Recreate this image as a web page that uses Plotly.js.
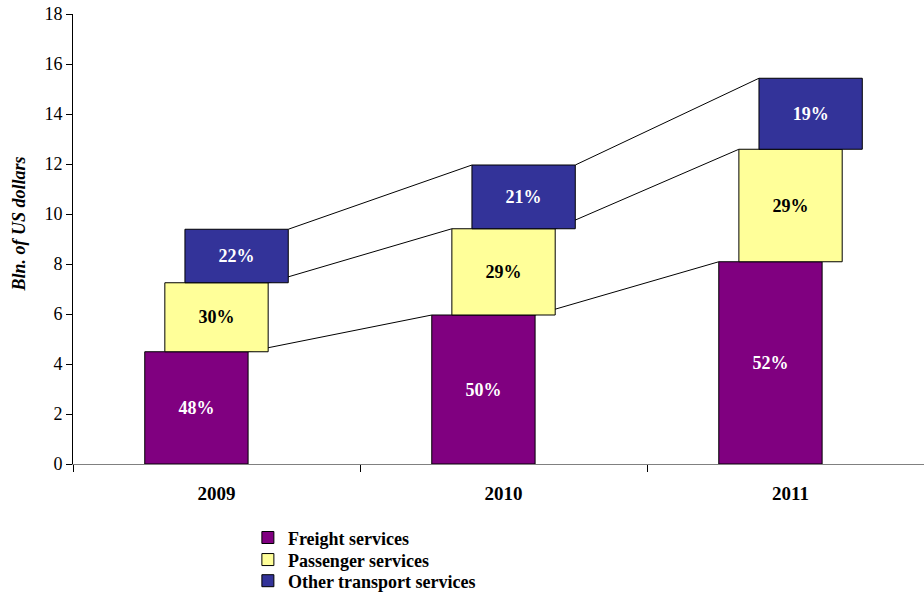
<!DOCTYPE html>
<html>
<head>
<meta charset="utf-8">
<script src="https://cdn.plot.ly/plotly-3.0.1.min.js"></script>
<style>html,body{margin:0;padding:0;background:#fff;}#chart{width:924px;height:593px;}</style>
</head>
<body>
<div id="chart"></div>
<script>
// ---- data ----
var years = ['2009', '2010', '2011'];
var seriesNames = ['Freight services', 'Passenger services', 'Other transport services'];
var freight = [4.49, 5.96, 8.09];
var passenger = [2.76, 3.45, 4.50];
var other = [2.14, 2.55, 2.84];
var freightPct = ['48%', '50%', '52%'];
var passengerPct = ['30%', '29%', '29%'];
var otherPct = ['22%', '21%', '19%'];

// ---- styling ----
var FONT = "'Liberation Serif', 'DejaVu Serif', serif";
var colors = ['#800080', '#FFFF99', '#333399'];
var textColors = ['#FFFFFF', '#000000', '#FFFFFF'];
var barWidth = 0.36;
var shifts = [-0.07, 0, 0.07];
var legendIds = ['legend', 'legend2', 'legend3'];
var legendY = [-0.164, -0.213, -0.260];

var xs = years.map(function (_, i) { return i; });
var series = [freight, passenger, other];
var pcts = [freightPct, passengerPct, otherPct];

// cumulative bases
var bases = [];
var running = years.map(function () { return 0; });
series.forEach(function (s) {
  bases.push(running.slice());
  running = running.map(function (v, j) { return v + s[j]; });
});

var traces = [];

// series connector lines (base subplot, behind bars)
series.forEach(function (s, i) {
  var off = shifts[i] - barWidth / 2;
  var lx = [], ly = [];
  for (var j = 0; j < years.length - 1; j++) {
    lx.push(xs[j] + off + barWidth, xs[j + 1] + off, null);
    ly.push(bases[i][j] + s[j], bases[i][j + 1] + s[j + 1], null);
  }
  traces.push({
    type: 'scatter', mode: 'lines', x: lx, y: ly,
    xaxis: 'x', yaxis: 'y',
    line: {color: '#000000', width: 1},
    showlegend: false, hoverinfo: 'skip'
  });
});

// bars (overlay subplot on top)
series.forEach(function (s, i) {
  traces.push({
    type: 'bar',
    name: '<b>' + seriesNames[i] + '</b>',
    legend: legendIds[i],
    x: xs, y: s, base: bases[i],
    xaxis: 'x2', yaxis: 'y2',
    width: barWidth,
    offset: shifts[i] - barWidth / 2,
    marker: {color: colors[i], line: {color: '#000000', width: 1}},
    text: pcts[i].map(function (p) { return '<b>' + p + '</b>'; }),
    textposition: 'inside',
    insidetextanchor: 'middle',
    textangle: 0,
    constraintext: 'none',
    textfont: {family: FONT, size: 18, color: textColors[i]},
    hoverinfo: 'skip'
  });
});

function legendCfg(y) {
  return {
    x: 0.2055, y: y, xanchor: 'left', yanchor: 'middle',
    orientation: 'v',
    font: {family: FONT, size: 18, color: '#000000'},
    bgcolor: 'rgba(0,0,0,0)', borderwidth: 0
  };
}

var xRange = [-0.5, 2.465];
var layout = {
  width: 924, height: 593,
  margin: {l: 73, r: 0, t: 14, b: 129, autoexpand: false},
  paper_bgcolor: '#FFFFFF', plot_bgcolor: '#FFFFFF',
  font: {family: FONT, size: 17, color: '#000000'},
  barmode: 'overlay',
  showlegend: true,
  legend: legendCfg(legendY[0]),
  legend2: legendCfg(legendY[1]),
  legend3: legendCfg(legendY[2]),
  xaxis: {
    type: 'linear', range: xRange,
    tickmode: 'array', tickvals: xs,
    ticktext: years.map(function (y) { return '<b>' + y + '</b>'; }),
    ticks: '', showgrid: false, zeroline: false,
    showline: true, linecolor: '#808080', linewidth: 1,
    tickfont: {family: FONT, size: 19, color: '#000000'},
    ticklabelstandoff: 12,
    fixedrange: true
  },
  yaxis: {
    range: [0, 18], tickmode: 'linear', tick0: 0, dtick: 2,
    ticks: 'outside', ticklen: 6, tickcolor: '#000000', tickwidth: 1,
    showline: true, linecolor: '#000000', linewidth: 1,
    showgrid: false, zeroline: false,
    tickfont: {family: FONT, size: 18, color: '#000000'},
    fixedrange: true
  },
  xaxis2: {
    type: 'linear', range: xRange, overlaying: 'x', anchor: 'y2', side: 'bottom',
    tickmode: 'array', tickvals: [-0.5, 0.5, 1.5, 2.5],
    ticks: 'outside', ticklen: 7, tickcolor: '#000000', tickwidth: 1,
    showticklabels: false, showgrid: false, zeroline: false, showline: false,
    fixedrange: true
  },
  yaxis2: {
    range: [0, 18], overlaying: 'y', anchor: 'x2', visible: false,
    showgrid: false, zeroline: false, fixedrange: true
  },
  annotations: [{
    text: '<b><i>Bln. of US dollars</i></b>',
    xref: 'paper', yref: 'paper',
    x: -0.063, y: 0.533, xanchor: 'center', yanchor: 'middle',
    textangle: -90, showarrow: false,
    font: {family: FONT, size: 18, color: '#000000'}
  }]
};

Plotly.newPlot('chart', traces, layout, {displayModeBar: false, staticPlot: true});
</script>
</body>
</html>
